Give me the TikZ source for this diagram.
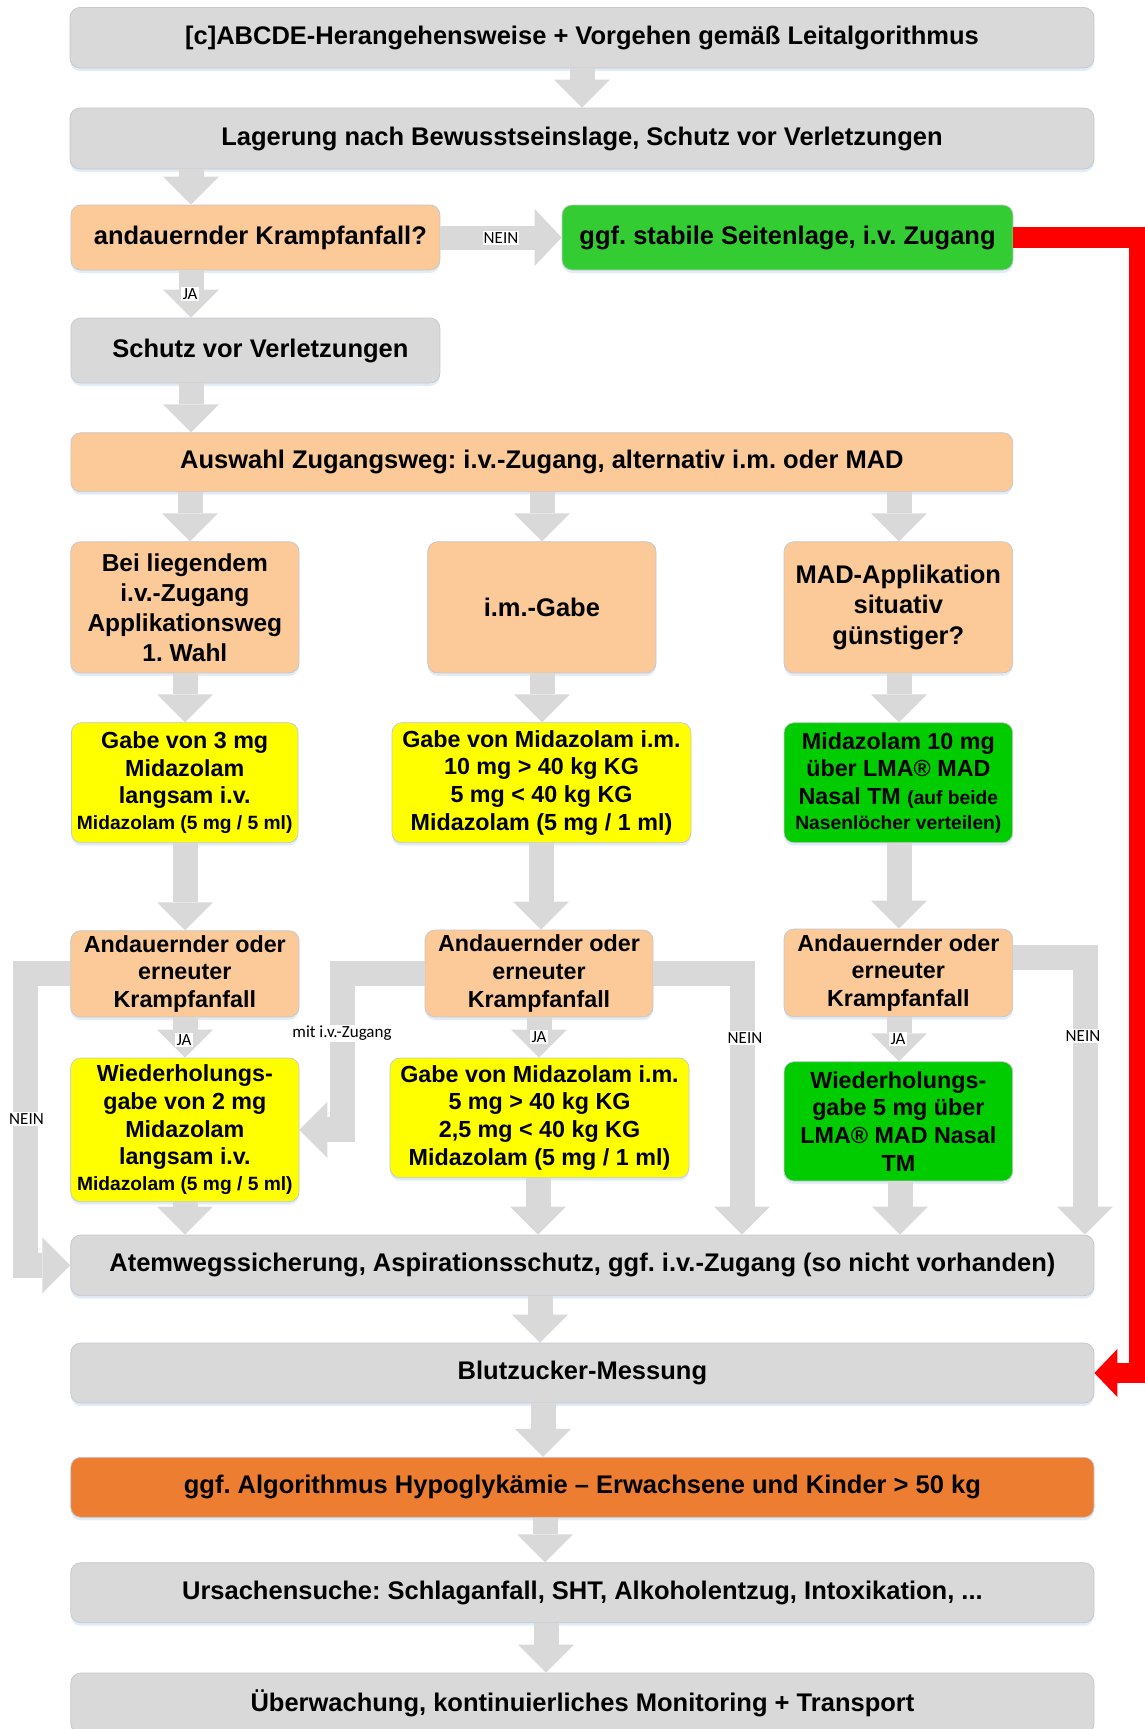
\documentclass[tikz,border=0pt]{standalone}
\usepackage{fontspec}
\setmainfont{Liberation Sans}
\newfontfamily\labelfont{Carlito}
\usetikzlibrary{arrows.meta,shadows}
\frenchspacing

\definecolor{boxgray}{HTML}{D9D9D9}
\definecolor{boxline}{HTML}{C3C7CE}
\definecolor{peach}{HTML}{FBCA98}
\definecolor{lightgreen}{HTML}{33CC33}
\definecolor{vividgreen}{HTML}{00CC00}
\definecolor{dosyellow}{HTML}{FFFF00}
\definecolor{darkorange}{HTML}{ED7D31}
\definecolor{arrowgray}{HTML}{D9D9D9}
\definecolor{haze}{HTML}{C6D9F0}
\definecolor{alarmred}{HTML}{FF0000}

\newcommand\szL{\fontsize{25.5}{30.5}\selectfont\bfseries}
\newcommand\szM{\fontsize{23.3}{27.7}\selectfont\bfseries}
\newcommand\szS{\fontsize{19.2}{22}\selectfont\bfseries}
\newcommand\szT{\fontsize{17}{19}\selectfont\labelfont}

\begin{document}
\begin{tikzpicture}[x=1pt,y=-1pt,
  card/.style={rounded corners=10pt, draw=boxline, line width=0.7pt, inner sep=0pt,
    align=center, text=black,
    drop shadow={shadow xshift=0pt, shadow yshift=-3pt, fill=haze, opacity=0.5}},
  graycard/.style={card, fill=boxgray},
  peachcard/.style={card, fill=peach},
  yellowcard/.style={card, fill=dosyellow},
  greencard/.style={card, fill=vividgreen},
  flow/.style={draw=arrowgray, line width=25pt,
    -{Triangle[length=28pt,width=56pt,line width=0pt]}},
  redflow/.style={draw=alarmred, line width=20.5pt,
    -{Triangle[length=23pt,width=48pt,line width=0pt]}},
  tag/.style={fill=white, inner sep=1.2pt, font=\szT}
]
\useasboundingbox (0,0) rectangle (1145,1729);

% ---------- boxes ----------
\node[graycard, minimum width=1024pt, minimum height=60.5pt, font=\szL] (abcde) at (582,37.75)
  {[c]ABCDE-Herangehensweise + Vorgehen gemäß Leitalgorithmus};
\node[graycard, minimum width=1024pt, minimum height=61pt, font=\szL] (lag) at (582,138.5)
  {Lagerung nach Bewusstseinslage, Schutz vor Verletzungen};
\node[peachcard, minimum width=369pt, minimum height=65pt, font=\szL] (krampf) at (255.4,237.5)
  {\hspace*{10pt}andauernder Krampfanfall?};
\node[card, fill=lightgreen, minimum width=451pt, minimum height=65pt, font=\szL] (stabil) at (787.5,237.5)
  {ggf. stabile Seitenlage, i.v. Zugang};
\node[graycard, minimum width=369pt, minimum height=65pt, font=\szL] (schutz) at (255.4,350.5)
  {\hspace*{10pt}Schutz vor Verletzungen};
\node[peachcard, minimum width=942pt, minimum height=59pt, font=\szL] (auswahl) at (541.85,462.2)
  {Auswahl Zugangsweg: i.v.-Zugang, alternativ i.m. oder MAD};

\node[peachcard, minimum width=228.3pt, minimum height=131.3pt, font={\fontsize{24.5}{30}\selectfont\bfseries}] (iv) at (184.85,607.35)
  {Bei liegendem\\i.v.-Zugang\\Applikationsweg\\1. Wahl};
\node[peachcard, minimum width=228.3pt, minimum height=131.3pt, font=\szL] (im) at (541.85,607.35)
  {i.m.-Gabe};
\node[peachcard, minimum width=228.7pt, minimum height=131.3pt, font=\szL] (mad) at (898.35,607.35)
  {MAD-Applikation\\situativ\\günstiger?};

\node[yellowcard, minimum width=226.6pt, minimum height=120pt, font=\szM] (dosA) at (184.7,782.7)
  {Gabe von 3 mg\\Midazolam\\langsam i.v.\\[-2pt]{\szS Midazolam (5 mg / 5 ml)}};
\node[yellowcard, minimum width=299pt, minimum height=120pt, font=\szM] (dosB) at (541.5,782.7)
  {Gabe von Midazolam i.m.\\10 mg > 40 kg KG\\5 mg < 40 kg KG\\Midazolam (5 mg / 1 ml)};
\node[greencard, minimum width=228.7pt, minimum height=120pt, font=\szM] (dosC) at (898.35,782.7)
  {Midazolam 10 mg\\über LMA® MAD\\Nasal TM {\szS (auf beide}\\[-3pt]{\szS Nasenlöcher verteilen)}};

\node[peachcard, minimum width=228.3pt, minimum height=86.3pt, font=\szM] (reA) at (184.85,973.85)
  {Andauernder oder\\erneuter\\Krampfanfall};
\node[peachcard, minimum width=228pt, minimum height=87pt, font=\szM] (reB) at (539,973.5)
  {Andauernder oder\\erneuter\\Krampfanfall};
\node[peachcard, minimum width=228.7pt, minimum height=87.7pt, font=\szM] (reC) at (898.35,972.85)
  {Andauernder oder\\erneuter\\Krampfanfall};

\node[yellowcard, minimum width=228.3pt, minimum height=143.7pt, font=\szM] (repA) at (184.85,1129.85)
  {Wiederholungs-\\gabe von 2 mg\\Midazolam\\langsam i.v.\\[-2pt]{\szS Midazolam (5 mg / 5 ml)}};
\node[yellowcard, minimum width=299pt, minimum height=119.7pt, font=\szM] (repB) at (539.5,1117.85)
  {Gabe von Midazolam i.m.\\5 mg > 40 kg KG\\2,5 mg < 40 kg KG\\Midazolam (5 mg / 1 ml)};
\node[greencard, minimum width=228.7pt, minimum height=119.3pt, font=\szM] (repC) at (898.35,1121.35)
  {Wiederholungs-\\gabe 5 mg über\\LMA® MAD Nasal\\TM};

\node[graycard, minimum width=1023.3pt, minimum height=60.7pt, font=\szL] (atem) at (582.35,1265.35)
  {Atemwegssicherung, Aspirationsschutz, ggf. i.v.-Zugang (so nicht vorhanden)};
\node[graycard, minimum width=1023.2pt, minimum height=60pt, font=\szL] (bz) at (582.4,1373)
  {Blutzucker-Messung};
\node[card, fill=darkorange, minimum width=1023.2pt, minimum height=60pt, font=\szL] (hypo) at (582.4,1487.3)
  {ggf. Algorithmus Hypoglykämie – Erwachsene und Kinder > 50 kg};
\node[graycard, minimum width=1023.2pt, minimum height=60pt, font=\szL] (ursache) at (582.4,1592.7)
  {Ursachensuche: Schlaganfall, SHT, Alkoholentzug, Intoxikation, ...};
\node[graycard, minimum width=1023.2pt, minimum height=60pt, font=\szL] (transport) at (582.4,1703)
  {Überwachung, kontinuierliches Monitoring + Transport};

% ---------- arrow columns ----------
\coordinate (xTop) at (582,0);
\coordinate (xA) at (191,0);
\coordinate (xL0) at (190,0);
\coordinate (xL) at (185,0);
\coordinate (xM) at (542,0);
\coordinate (xM1) at (541,0);
\coordinate (xM2) at (539,0);
\coordinate (xM3) at (538,0);
\coordinate (xR) at (899,0);
\coordinate (xR1) at (900,0);
\coordinate (xN2) at (742,0);
\coordinate (xN3) at (1085,0);
\coordinate (xB0) at (540,0);
\coordinate (xB1) at (543,0);
\coordinate (xB2) at (545,0);
\coordinate (xB3) at (546,0);
\coordinate (xRed) at (1139.5,0);

% ---------- connectors ----------
\draw[flow] (abcde.south -| xTop) -- (lag.north -| xTop);
\draw[flow] (lag.south -| xA) -- (krampf.north -| xA);
\draw[flow, line width=24pt, -{Triangle[length=27pt,width=57pt,line width=0pt]}]
  (krampf.east) -- (stabil.west);
\draw[flow] (krampf.south -| xA) -- (schutz.north -| xA);
\draw[flow] (schutz.south -| xA) -- (auswahl.north -| xA);

\draw[flow] (auswahl.south -| xL0) -- (iv.north -| xL0);
\draw[flow] (auswahl.south -| xM) -- (im.north -| xM);
\draw[flow] (auswahl.south -| xR) -- (mad.north -| xR);

\draw[flow] (iv.south -| xL) -- (dosA.north -| xL);
\draw[flow] (im.south -| xM) -- (dosB.north -| xM);
\draw[flow] (mad.south -| xR) -- (dosC.north -| xR);

\draw[flow] (dosA.south -| xL) -- (reA.north -| xL);
\draw[flow] (dosB.south -| xM1) -- (reB.north -| xM1);
\draw[flow] (dosC.south -| xR) -- (reC.north -| xR);

\draw[flow] (reA.south -| xL) -- (repA.north -| xL);
\draw[flow] (reB.south -| xM2) -- (repB.north -| xM2);
\draw[flow] (reC.south -| xR) -- (repC.north -| xR);

\draw[flow] (repA.south -| xL) -- (atem.north -| xL);
\draw[flow] (repB.south -| xM3) -- (atem.north -| xM3);
\draw[flow] (repC.south -| xR1) -- (atem.north -| xR1);

\draw[flow] (reA.west) -- ++(-45,0) |- (atem.west);
\draw[flow] (reB.west) -- ++(-82,0) |- (repA.east);
\draw[flow] (reB.east) -| (xN2 |- atem.north);
\draw[flow] ([yshift=15pt]reC.east) -| (xN3 |- atem.north);

\draw[flow] (atem.south -| xB0) -- (bz.north -| xB0);
\draw[flow] (bz.south -| xB1) -- (hypo.north -| xB1);
\draw[flow] (hypo.south -| xB2) -- (ursache.north -| xB2);
\draw[flow] (ursache.south -| xB3) -- (transport.north -| xB3);

\draw[redflow] (stabil.east) -| (xRed |- bz.east) -- (bz.east);

% ---------- branch labels ----------
\node[tag] (tNeinTop) at (501,238) {NEIN};
\node[tag] (tJaTop) at (190,294) {JA};
\node[tag] (tJaA) at (184,1040) {JA};
\node[tag] (tJaB) at (539,1037) {JA};
\node[tag] (tJaC) at (898,1039) {JA};
\node[tag] (tNeinA) at (26.5,1119) {NEIN};
\node[tag] (tNeinB) at (745,1038) {NEIN};
\node[tag] (tNeinC) at (1083,1036) {NEIN};
\node[tag] (tMitIv) at (342,1033) {mit i.v.-Zugang};
\end{tikzpicture}
\end{document}
